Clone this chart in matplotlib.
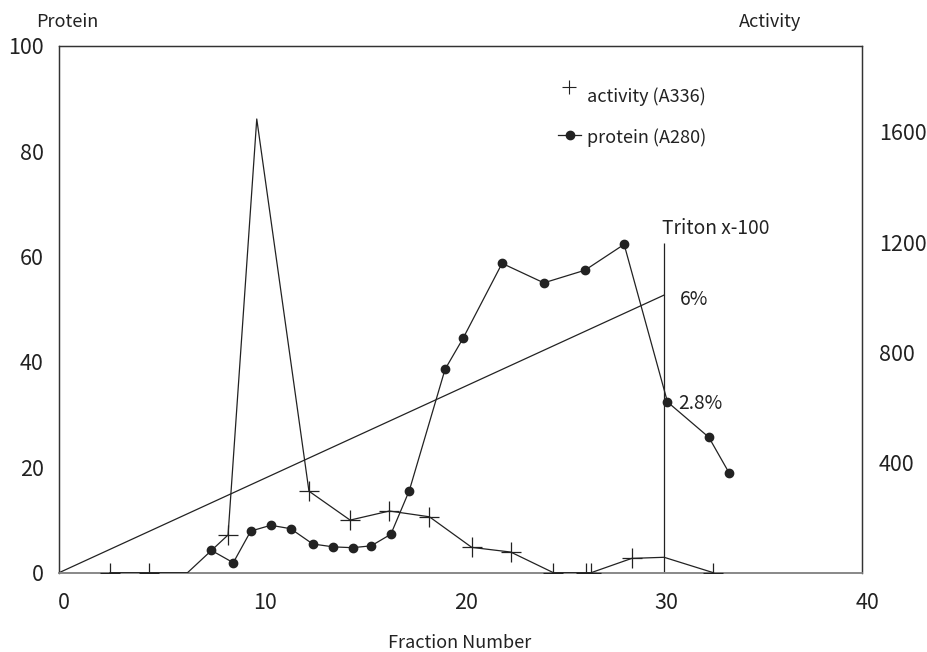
import matplotlib
matplotlib.use("Agg")
import matplotlib.pyplot as plt
import matplotlib.transforms as mtransforms

plt.rcParams['font.family'] = ['Noto Sans CJK JP', 'DejaVu Sans']

# ---- data ----
protein_x = [7.56, 8.68, 9.55, 10.55, 11.54, 12.64, 13.67, 14.62, 15.55, 16.53,
             17.45, 19.23, 20.13, 22.07, 24.15, 26.2, 28.15, 30.31, 32.37, 33.37]
protein_y = [4.3, 1.9, 7.9, 9.0, 8.35, 5.45, 4.9, 4.75, 5.1, 7.3,
             15.6, 38.6, 44.5, 58.7, 55.0, 57.4, 62.3, 32.4, 25.7, 19.0]

activity_x = [2.54, 4.47, 6.4, 8.42, 9.85, 12.45, 14.5, 16.46, 18.45, 20.56,
              22.5, 24.63, 26.26, 26.5, 28.53, 30.14, 32.6]
activity_y = [0, 0, 0, 137, 1647, 296, 191, 224, 203, 92,
              75, 0, 0, 0, 52, 56, 0]
activity_marked = [0, 1, 3, 5, 6, 7, 8, 9, 10, 11, 12, 13, 14, 16]

gradient_x = [0, 30.15]
gradient_y = [0, 52.7]
triton_x = 30.15
triton_top = 62.6

x_ticks = [0, 10, 20, 30, 40]
left_ticks = [0, 20, 40, 60, 80, 100]
right_ticks = [400, 800, 1200, 1600]

ink = '#222222'
fs = 13
tfs = 15.5

fig = plt.figure(figsize=(9.28, 6.52), dpi=100)
ax = fig.add_axes([0.0636, 0.1216, 0.8653, 0.8083])
ax2 = ax.twinx()

ax.set_xlim(0, 40)
ax.set_ylim(0, 100)
ax2.set_ylim(0, 1913)

# gradient line and Triton marker
ax.plot(gradient_x, gradient_y, color=ink, lw=0.9)
ax.vlines(triton_x, 0, triton_top, color=ink, lw=0.9)

# protein
ax.plot(protein_x, protein_y, color=ink, lw=0.9, marker='o', ms=6,
        mfc=ink, mec=ink, zorder=3)

# activity
ax2.plot(activity_x, activity_y, color=ink, lw=0.9, marker='+', ms=14,
         mew=0.9, markevery=activity_marked, zorder=3)

# annotations
ax.text(30.05, 65.4, 'Triton x-100', fontsize=13.8, color=ink, ha='left', va='center')
ax.text(30.94, 51.9, '6%', fontsize=13.8, color=ink, ha='left', va='center')
ax.text(30.84, 32.2, '2.8%', fontsize=13.8, color=ink, ha='left', va='center')

# legend (manual)
ax.plot([0.6345], [0.9225], transform=ax.transAxes, marker='+', ms=10,
        mew=0.8, color=ink, clip_on=False)
ax.text(0.657, 0.903, 'activity (A336)', transform=ax.transAxes, fontsize=fs,
        color=ink, ha='left', va='center')
ax.plot([0.622, 0.650], [0.830, 0.830], transform=ax.transAxes, color=ink,
        lw=0.9, marker=None)
ax.plot([0.636], [0.830], transform=ax.transAxes, marker='o', ms=6, color=ink)
ax.text(0.657, 0.826, 'protein (A280)', transform=ax.transAxes, fontsize=fs,
        color=ink, ha='left', va='center')

# ticks
ax.set_xticks(x_ticks)
ax.set_yticks(left_ticks)
ax2.set_yticks(right_ticks)
ax.tick_params(axis='x', length=0, pad=14, labelsize=tfs, labelcolor=ink)
ax.tick_params(axis='y', length=0, pad=11, labelsize=tfs, labelcolor=ink)
ax2.tick_params(axis='y', length=0, pad=12, labelsize=tfs, labelcolor=ink)
offset = mtransforms.ScaledTranslation(5 / 100, 0, fig.dpi_scale_trans)
for lab in ax.get_xticklabels():
    lab.set_transform(lab.get_transform() + offset)

for a in (ax, ax2):
    for s in ('left', 'top', 'right'):
        a.spines[s].set_color('#333333')
        a.spines[s].set_linewidth(0.9)
    a.spines['bottom'].set_color('#888888')
    a.spines['bottom'].set_linewidth(1.2)

# axis titles
fig.text(36 / 928, 1 - 22 / 652, 'Protein', fontsize=fs, color=ink,
         ha='left', va='center')
fig.text(739 / 928, 1 - 22 / 652, 'Activity', fontsize=fs, color=ink,
         ha='left', va='center')
fig.text(460 / 928, 1 - 643 / 652, 'Fraction Number', fontsize=fs,
         color=ink, ha='center', va='center')

fig.savefig('out.png', dpi=100)
